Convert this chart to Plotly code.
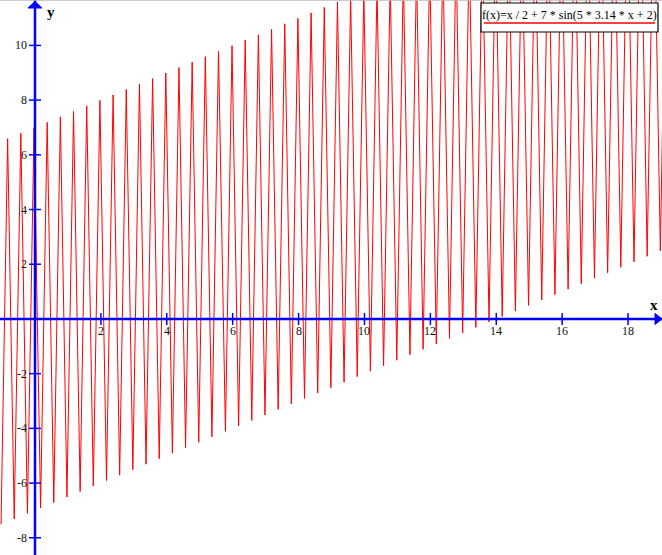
import plotly.graph_objects as go

# Extrema of the plotted curve (alternating peak / trough)
curve_x = [-1.03, -0.83, -0.63, -0.43, -0.23, -0.03, 0.17, 0.37, 0.57, 0.77,
           0.97, 1.17, 1.37, 1.57, 1.77, 1.97, 2.17, 2.37, 2.57, 2.77,
           2.97, 3.17, 3.37, 3.57, 3.77, 3.97, 4.17, 4.37, 4.57, 4.77,
           4.97, 5.17, 5.37, 5.57, 5.78, 5.98, 6.18, 6.38, 6.58, 6.78,
           6.98, 7.18, 7.38, 7.58, 7.78, 7.98, 8.18, 8.38, 8.58, 8.78,
           8.98, 9.18, 9.38, 9.58, 9.78, 9.98, 10.18, 10.38, 10.58, 10.78,
           10.98, 11.18, 11.38, 11.58, 11.78, 11.98, 12.18, 12.38, 12.58, 12.78,
           12.98, 13.18, 13.38, 13.58, 13.78, 13.98, 14.18, 14.38, 14.58, 14.78,
           14.98, 15.18, 15.38, 15.58, 15.78, 15.98, 16.18, 16.38, 16.58, 16.78,
           16.98, 17.18, 17.38, 17.58, 17.78, 17.98, 18.18, 18.38, 18.58, 18.78,
           18.98, 19.18]
curve_y = [-7.51, 6.59, -7.31, 6.79, -7.11, 6.99, -6.91, 7.19, -6.71, 7.39,
           -6.51, 7.59, -6.31, 7.79, -6.11, 7.99, -5.91, 8.19, -5.71, 8.39,
           -5.51, 8.59, -5.31, 8.79, -5.11, 8.99, -4.91, 9.19, -4.71, 9.39,
           -4.51, 9.59, -4.31, 9.79, -4.11, 9.99, -3.91, 10.19, -3.71, 10.39,
           -3.51, 10.59, -3.31, 10.79, -3.11, 10.99, -2.91, 11.19, -2.71, 11.39,
           -2.51, 11.59, -2.31, 11.79, -2.11, 11.99, -1.91, 12.19, -1.71, 12.39,
           -1.51, 12.59, -1.31, 12.79, -1.11, 12.99, -0.91, 13.19, -0.71, 13.39,
           -0.51, 13.59, -0.31, 13.79, -0.11, 13.99, 0.09, 14.19, 0.29, 14.39,
           0.49, 14.59, 0.69, 14.79, 0.89, 14.99, 1.09, 15.19, 1.29, 15.39,
           1.49, 15.59, 1.69, 15.79, 1.89, 15.99, 2.09, 16.19, 2.29, 16.39,
           2.49, 16.59]

x_ticks = [2, 4, 6, 8, 10, 12, 14, 16, 18]
y_ticks = [-8, -6, -4, -2, 2, 4, 6, 8, 10]
legend_text = "f(x)=x / 2 + 7 * sin(5 * 3.14 * x + 2)"

W, H = 662, 555
X_RANGE = [-1.062, 19.03]
Y_RANGE = [-8.63, 11.66]
FONT = "Liberation Serif, Times New Roman, serif"
BLUE = "#0000FF"

fig = go.Figure()
fig.add_trace(go.Scatter(x=curve_x, y=curve_y, mode="lines",
                         line=dict(color="#FF0000", width=1),
                         showlegend=False, hoverinfo="skip"))

shapes = []
annotations = []

# axes through origin
shapes.append(dict(type="line", xref="x", yref="y", x0=X_RANGE[0], x1=X_RANGE[1],
                   y0=0, y1=0, line=dict(color=BLUE, width=2.5)))
shapes.append(dict(type="line", xref="x", yref="y", x0=0, x1=0,
                   y0=Y_RANGE[0], y1=Y_RANGE[1], line=dict(color=BLUE, width=2.5)))

# arrow heads
shapes.append(dict(type="path", xref="x", yref="y",
                   xsizemode="pixel", ysizemode="pixel",
                   xanchor=X_RANGE[1], yanchor=0,
                   path="M -7,-5.5 L -7,5.5 L 0,0 Z",
                   fillcolor=BLUE, line=dict(color=BLUE, width=1)))
shapes.append(dict(type="path", xref="x", yref="y",
                   xsizemode="pixel", ysizemode="pixel",
                   xanchor=0, yanchor=Y_RANGE[1],
                   path="M -7,-8 L 7,-8 L 0,-1.5 Z",
                   fillcolor=BLUE, line=dict(color=BLUE, width=1)))

# ticks and labels
for v in x_ticks:
    shapes.append(dict(type="line", xref="x", yref="y", ysizemode="pixel", yanchor=0,
                       x0=v, x1=v, y0=-6, y1=6, line=dict(color=BLUE, width=1.5)))
    annotations.append(dict(x=v, y=0, xref="x", yref="y", text=str(v), showarrow=False,
                            xanchor="center", yanchor="middle", yshift=-12,
                            font=dict(family=FONT, size=12, color="#111111")))
for v in y_ticks:
    shapes.append(dict(type="line", xref="x", yref="y", xsizemode="pixel", xanchor=0,
                       x0=-6, x1=6, y0=v, y1=v, line=dict(color=BLUE, width=1.5)))
    annotations.append(dict(x=0, y=v, xref="x", yref="y", text=str(v), showarrow=False,
                            xanchor="right", yanchor="middle", xshift=-6,
                            font=dict(family=FONT, size=12, color="#111111")))

# axis names
annotations.append(dict(x=X_RANGE[1], y=0, xref="x", yref="y", text="<b>x</b>",
                        showarrow=False, xanchor="right", yanchor="middle",
                        xshift=-2, yshift=14, font=dict(family=FONT, size=15, color="black")))
annotations.append(dict(x=0, y=Y_RANGE[1], xref="x", yref="y", text="<b>y</b>",
                        showarrow=False, xanchor="left", yanchor="middle",
                        xshift=10, yshift=-12, font=dict(family=FONT, size=15, color="black")))

# legend box
shapes.append(dict(type="rect", xref="paper", yref="paper",
                   x0=481 / W, x1=658 / W, y0=1 - 32 / H, y1=1 - 3 / H,
                   fillcolor="white", line=dict(color="black", width=1.2)))
shapes.append(dict(type="line", xref="paper", yref="paper",
                   x0=484 / W, x1=655 / W, y0=1 - 23 / H, y1=1 - 23 / H,
                   line=dict(color="#FF0000", width=1.5)))
annotations.append(dict(x=569.5 / W, y=1 - 15 / H, xref="paper", yref="paper",
                        text=legend_text, showarrow=False, xanchor="center",
                        yanchor="middle", font=dict(family=FONT, size=12, color="black")))

# top border
shapes.append(dict(type="line", xref="paper", yref="paper", x0=0, x1=1, y0=1, y1=1,
                   line=dict(color="#BBBBBB", width=1.5)))

fig.update_layout(
    width=W, height=H,
    margin=dict(l=0, r=0, t=0, b=0),
    paper_bgcolor="white", plot_bgcolor="white",
    xaxis=dict(range=X_RANGE, visible=False, fixedrange=True),
    yaxis=dict(range=Y_RANGE, visible=False, fixedrange=True),
    shapes=shapes, annotations=annotations,
    showlegend=False,
)

fig.write_html(
    "out.html",
    config={"displayModeBar": False},
    post_script="document.body.style.margin='0';document.body.style.overflow='hidden';",
)
